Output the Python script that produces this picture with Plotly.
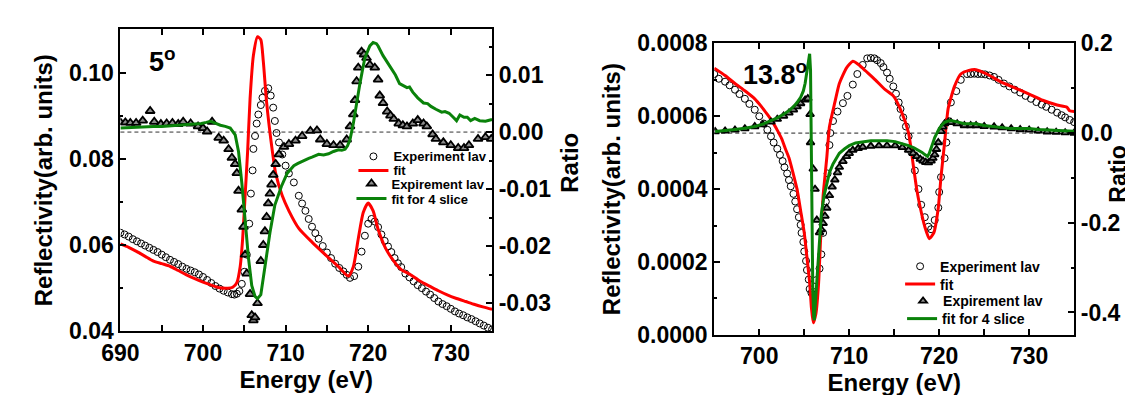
import plotly.graph_objects as go

# ---------------- Left panel (5 deg) ----------------
e5_exp = [690.0, 690.5, 691.0, 691.5, 692.0, 692.5, 693.0, 693.5, 694.0, 694.5, 695.0, 695.5, 696.0, 696.5,
          697.0, 697.5, 698.0, 698.5, 699.0, 699.5, 700.0, 700.5, 701.0, 701.5, 702.0, 702.5, 703.0, 703.5,
          703.8, 704.1, 704.4, 704.7, 705.0, 705.3, 705.6, 705.8, 706.0, 706.1, 706.3, 706.5, 706.7, 707.0,
          707.2, 707.5, 707.9, 708.2, 708.5, 708.7, 708.9, 709.2, 709.6, 710.0, 710.4, 711.0, 711.6, 712.0,
          712.4, 712.8, 713.2, 713.6, 714.0, 714.5, 715.0, 715.5, 716.0, 716.5, 717.0, 717.4, 717.8, 718.3,
          718.8, 719.2, 719.6, 720.0, 720.4, 720.8, 721.2, 721.6, 722.0, 722.4, 722.8, 723.2, 723.6, 724.0,
          724.5, 725.0, 725.5, 726.0, 726.5, 727.0, 727.5, 728.0, 728.5, 729.0, 729.5, 730.0, 730.5, 731.0,
          731.5, 732.0, 732.5, 733.0, 733.5, 734.0, 734.5, 735.0]
r5_exp = [0.0629, 0.0625, 0.0620, 0.0614, 0.0609, 0.0604, 0.0599, 0.0594, 0.0589, 0.0584, 0.0578, 0.0572,
          0.0566, 0.0561, 0.0556, 0.0550, 0.0545, 0.0541, 0.0537, 0.0532, 0.0526, 0.0519, 0.0512, 0.0505,
          0.0499, 0.0494, 0.0490, 0.0486, 0.0485, 0.0487, 0.0493, 0.0510, 0.0538, 0.0578, 0.0650, 0.0720,
          0.0774, 0.0824, 0.0854, 0.0883, 0.0904, 0.0926, 0.0943, 0.0959, 0.0965, 0.0948, 0.0920, 0.0889,
          0.0861, 0.0839, 0.0811, 0.0785, 0.0767, 0.0746, 0.0715, 0.0697, 0.0680, 0.0661, 0.0643, 0.0628,
          0.0615, 0.0598, 0.0583, 0.0570, 0.0557, 0.0547, 0.0539, 0.0531, 0.0524, 0.0528, 0.0550, 0.0585,
          0.0622, 0.0650, 0.0661, 0.0655, 0.0642, 0.0625, 0.0610, 0.0597, 0.0584, 0.0570, 0.0558, 0.0549,
          0.0534, 0.0525, 0.0516, 0.0507, 0.0500, 0.0492, 0.0485, 0.0477, 0.0469, 0.0463, 0.0458, 0.0452,
          0.0446, 0.0441, 0.0437, 0.0432, 0.0428, 0.0423, 0.0418, 0.0413, 0.0408, 0.0404]

e5_fit = [690.0, 691.0, 692.0, 693.0, 694.0, 695.0, 696.0, 697.0, 698.0, 699.0, 700.0, 701.0, 702.0, 703.0,
          703.6, 704.1, 704.5, 704.8, 705.1, 705.4, 705.7, 706.1, 706.6, 707.0, 707.3, 707.7, 708.3, 708.8,
          709.6, 710.4, 711.6, 713.2, 714.8, 716.4, 717.6, 718.2, 718.8, 719.4, 720.0, 720.6, 721.2, 722.1,
          723.1, 724.0, 725.0, 726.3, 727.5, 728.5, 729.5, 730.7, 731.8, 732.9, 734.0, 735.0]
r5_fit = [0.0603, 0.0595, 0.0585, 0.0574, 0.0563, 0.0557, 0.0551, 0.0541, 0.0531, 0.0522, 0.0514, 0.0507,
          0.0501, 0.0500, 0.0502, 0.0513, 0.0550, 0.0615, 0.0715, 0.0817, 0.0941, 0.1041, 0.1085, 0.1078,
          0.1028, 0.0933, 0.0833, 0.0767, 0.0715, 0.0680, 0.0639, 0.0607, 0.0578, 0.0550, 0.0528, 0.0550,
          0.0615, 0.0676, 0.0698, 0.0680, 0.0637, 0.0593, 0.0563, 0.0543, 0.0533, 0.0516, 0.0504, 0.0494,
          0.0485, 0.0476, 0.0469, 0.0462, 0.0456, 0.0451]

e5_ratio = [690.0, 690.6, 691.2, 691.9, 692.7, 693.6, 694.1, 694.9, 695.6, 696.3, 697.0, 697.6, 698.5, 699.4,
            700.0, 700.5, 701.1, 701.9, 702.5, 703.1, 703.5, 703.9, 704.1, 704.3, 704.7, 704.9, 705.1, 705.3,
            705.7, 705.9, 706.1, 706.3, 706.6, 707.0, 707.3, 707.5, 707.7, 707.9, 708.1, 708.3, 708.5, 708.8,
            709.2, 709.8, 710.4, 711.2, 712.0, 713.0, 713.8, 714.2, 715.0, 715.8, 716.6, 717.4, 717.8, 718.2,
            718.4, 718.6, 718.8, 719.2, 719.5, 719.8, 720.2, 720.8, 721.2, 721.4, 721.8, 722.3, 722.7, 723.1,
            723.7, 724.2, 724.7, 725.4, 726.0, 726.7, 727.1, 727.8, 728.2, 729.1, 730.0, 730.9, 731.6, 732.2,
            733.3, 734.2, 734.9]
q5_ratio = [0.0017, 0.0017, 0.0016, 0.0016, 0.0020, 0.0037, 0.0018, 0.0014, 0.0015, 0.0016, 0.0014, 0.0018,
            0.0015, 0.0010, 0.0007, 0.0001, 0.0018, -0.0010, -0.0015, -0.0030, -0.0045, -0.0056, -0.0072,
            -0.0103, -0.0136, -0.0166, -0.0215, -0.0248, -0.0284, -0.0321, -0.0330, -0.0325, -0.0300, -0.0226,
            -0.0198, -0.0174, -0.0149, -0.0125, -0.0108, -0.0092, -0.0075, -0.0056, -0.0039, -0.0026, -0.0021,
            -0.0015, -0.0007, 0.0002, 0.0003, -0.0013, -0.0021, -0.0023, -0.0023, -0.0013, 0.0010, 0.0031,
            0.0056, 0.0089, 0.0113, 0.0141, 0.0136, 0.0130, 0.0118, 0.0113, 0.0092, 0.0064, 0.0051, 0.0036,
            0.0029, 0.0023, 0.0015, 0.0012, 0.0010, 0.0015, 0.0021, 0.0015, 0.0010, -0.0004, -0.0012, -0.0018,
            -0.0023, -0.0028, -0.0028, -0.0023, -0.0012, -0.0009, -0.0012]

e5_slice = [690.0, 691.0, 692.0, 693.0, 694.0, 695.0, 696.0, 697.0, 698.0, 699.0, 699.8, 700.4, 700.9, 701.4,
            702.1, 702.7, 703.3, 703.9, 704.3, 704.7, 705.1, 705.5, 705.9, 706.3, 706.6, 707.0, 707.5, 708.1,
            708.7, 709.5, 710.2, 711.0, 711.5, 712.0, 712.4, 712.8, 713.2, 713.6, 714.0, 714.6, 715.2, 715.8,
            716.4, 716.8, 717.2, 717.5, 717.8, 718.2, 718.6, 719.0, 719.3, 719.6, 720.2, 720.6, 721.0, 721.2,
            721.8, 722.3, 722.8, 723.3, 723.8, 724.2, 724.7, 725.0, 725.4, 726.0, 726.7, 727.2, 727.6, 728.2,
            728.9, 729.3, 729.8, 730.3, 730.7, 731.1, 731.6, 732.0, 732.4, 732.9, 733.5, 734.2, 735.0]
q5_slice = [0.0007, 0.0008, 0.0008, 0.0009, 0.0010, 0.0010, 0.0011, 0.0011, 0.0012, 0.0013, 0.0015, 0.0017,
            0.0019, 0.0016, 0.0012, 0.0010, 0.0007, -0.0005, -0.0034, -0.0089, -0.0154, -0.0220, -0.0269,
            -0.0288, -0.0292, -0.0285, -0.0236, -0.0177, -0.0128, -0.0095, -0.0072, -0.0059, -0.0055, -0.0051,
            -0.0048, -0.0046, -0.0044, -0.0042, -0.0039, -0.0040, -0.0038, -0.0034, -0.0031, -0.0032, -0.0030,
            -0.0024, -0.0013, 0.0015, 0.0052, 0.0085, 0.0108, 0.0130, 0.0151, 0.0157, 0.0155, 0.0151, 0.0134,
            0.0123, 0.0113, 0.0100, 0.0085, 0.0082, 0.0078, 0.0079, 0.0070, 0.0060, 0.0051, 0.0050, 0.0045,
            0.0040, 0.0035, 0.0036, 0.0033, 0.0026, 0.0020, 0.0030, 0.0026, 0.0026, 0.0020, 0.0024, 0.0020,
            0.0019, 0.0022]

# ---------------- Right panel (13.8 deg) ----------------
e13_exp = [695.0, 695.5, 696.2, 696.7, 697.3, 697.8, 698.4, 698.9, 699.5, 700.0, 700.5, 700.9, 701.3, 701.6,
           702.0, 702.3, 702.6, 702.8, 703.1, 703.3, 703.5, 703.8, 704.0, 704.2, 704.4, 704.6, 704.7, 704.9,
           705.0, 705.2, 705.3, 705.5, 705.6, 705.8, 706.0, 706.3, 706.7, 706.9, 707.1, 707.4, 707.6, 707.8,
           707.9, 708.2, 708.7, 709.3, 709.8, 710.4, 710.9, 711.5, 712.0, 712.4, 712.8, 713.1, 713.5, 713.8,
           714.2, 714.5, 714.9, 715.2, 715.5, 715.7, 716.0, 716.3, 716.6, 716.9, 717.3, 717.7, 718.0, 718.4,
           718.8, 719.1, 719.5, 719.9, 720.0, 720.2, 720.6, 720.8, 721.0, 721.3, 721.9, 722.4, 723.1, 723.5,
           723.9, 724.3, 724.7, 725.1, 725.6, 726.1, 726.6, 727.2, 727.8, 728.4, 729.0, 729.6, 730.2, 730.8,
           731.4, 731.9, 732.5, 733.1, 733.6, 734.0, 734.5, 735.0]
r13_exp = [0.000716, 0.000703, 0.000695, 0.000685, 0.000673, 0.000661, 0.000648, 0.000634, 0.000618, 0.000600,
           0.000580, 0.000563, 0.000545, 0.000528, 0.000511, 0.000494, 0.000477, 0.000460, 0.000443, 0.000425,
           0.000408, 0.000387, 0.000366, 0.000345, 0.000323, 0.000302, 0.000280, 0.000255, 0.000229, 0.000203,
           0.000178, 0.000152, 0.000126, 0.000115, 0.000118, 0.000150, 0.000182, 0.000221, 0.000280, 0.000366,
           0.000443, 0.000521, 0.000554, 0.000587, 0.000613, 0.000636, 0.000656, 0.000687, 0.000716, 0.000741,
           0.000759, 0.000760, 0.000759, 0.000754, 0.000746, 0.000735, 0.000720, 0.000703, 0.000682, 0.000662,
           0.000638, 0.000620, 0.000597, 0.000572, 0.000545, 0.000502, 0.000451, 0.000400, 0.000357, 0.000323,
           0.000297, 0.000290, 0.000315, 0.000349, 0.000392, 0.000433, 0.000485, 0.000528, 0.000587, 0.000638,
           0.000669, 0.000700, 0.000716, 0.000716, 0.000717, 0.000716, 0.000716, 0.000715, 0.000712, 0.000708,
           0.000700, 0.000690, 0.000682, 0.000673, 0.000665, 0.000656, 0.000648, 0.000639, 0.000632, 0.000626,
           0.000618, 0.000610, 0.000603, 0.000597, 0.000590, 0.000584]

e13_fit = [695.0, 696.2, 697.3, 698.4, 699.5, 700.2, 700.9, 701.5, 702.0, 702.5, 702.9, 703.3, 703.6, 703.9,
           704.2, 704.6, 705.0, 705.3, 705.6, 705.8, 706.0, 706.3, 706.6, 706.8, 707.1, 707.5, 707.8, 708.4,
           708.9, 709.7, 710.4, 711.1, 711.8, 712.9, 714.0, 714.9, 715.8, 716.6, 717.1, 717.5, 717.9, 718.4,
           718.9, 719.4, 719.9, 720.2, 720.6, 721.0, 721.7, 722.4, 723.3, 724.1, 725.3, 726.8, 728.4, 730.0,
           731.5, 733.1, 734.2, 734.5, 735.0]
r13_fit = [0.000732, 0.000712, 0.000690, 0.000670, 0.000648, 0.000628, 0.000605, 0.000584, 0.000562, 0.000538,
           0.000511, 0.000486, 0.000459, 0.000430, 0.000400, 0.000341, 0.000280, 0.000213, 0.000144, 0.000074,
           0.000033, 0.000059, 0.000144, 0.000254, 0.000383, 0.000485, 0.000571, 0.000638, 0.000690, 0.000733,
           0.000751, 0.000741, 0.000725, 0.000700, 0.000673, 0.000656, 0.000613, 0.000554, 0.000469, 0.000400,
           0.000349, 0.000297, 0.000264, 0.000280, 0.000349, 0.000433, 0.000528, 0.000622, 0.000682, 0.000716,
           0.000726, 0.000728, 0.000716, 0.000695, 0.000678, 0.000661, 0.000644, 0.000631, 0.000625, 0.000615,
           0.000613]

e13_ratio = [695.1, 696.2, 697.3, 698.4, 699.5, 700.4, 701.3, 702.0, 702.7, 703.3, 703.8, 704.2, 704.6, 705.1,
             705.4, 705.65, 705.7, 706.0, 706.2, 706.4, 706.7, 706.9, 707.1, 707.3, 707.5, 707.8, 708.1, 708.4,
             708.7, 708.9, 709.3, 709.7, 710.0, 710.4, 711.0, 711.5, 712.4, 713.3, 714.2, 715.1, 715.9, 716.6,
             717.1, 717.5, 717.9, 718.2, 718.5, 718.8, 719.1, 719.3, 719.5, 719.7, 719.9, 720.2, 720.4, 720.6,
             721.0, 721.3, 722.0, 722.8, 723.5, 724.1, 725.0, 726.1, 727.0, 728.0, 729.0, 730.0, 731.0, 732.0,
             733.0, 734.0, 735.0]
q13_ratio = [0.0035, 0.005, 0.007, 0.010, 0.0146, 0.019, 0.025, 0.031, 0.038, 0.045, 0.052, 0.059, 0.066,
             0.074, 0.077, 0.042, -0.021, -0.080, -0.125, -0.194, -0.222, -0.215, -0.201, -0.185, -0.167,
             -0.139, -0.120, -0.104, -0.088, -0.076, -0.063, -0.052, -0.045, -0.038, -0.034, -0.031, -0.029,
             -0.028, -0.028, -0.028, -0.032, -0.038, -0.045, -0.052, -0.058, -0.062, -0.065, -0.066, -0.062,
             -0.056, -0.048, -0.036, -0.021, 0.004, 0.014, 0.021, 0.024, 0.024, 0.021, 0.017, 0.017, 0.017,
             0.015, 0.014, 0.012, 0.010, 0.008, 0.007, 0.005, 0.003, 0.002, 0.001, 0.000]

e13_slice = [695.1, 696.2, 697.3, 698.4, 699.5, 700.4, 701.3, 702.0, 702.7, 703.3, 703.8, 704.2, 704.6, 704.9,
             705.1, 705.3, 705.45, 705.6, 705.7, 705.75, 705.85, 705.95, 706.05, 706.12, 706.25, 706.4, 706.6,
             706.9, 707.2, 707.5, 707.8, 708.2, 708.9, 709.5, 710.0, 710.7, 711.5, 712.4, 713.3, 714.2, 715.1,
             715.9, 716.6, 717.2, 717.7, 718.1, 718.4, 718.7, 718.9, 719.1, 719.3, 719.5, 719.8, 720.0, 720.3,
             720.6, 721.0, 721.3, 722.0, 722.8, 723.5, 724.1, 725.0, 726.1, 727.0, 728.0, 729.0, 730.0, 731.0,
             732.0, 733.0, 734.0, 735.0]
q13_slice = [0.0035, 0.005, 0.008, 0.011, 0.0146, 0.020, 0.027, 0.034, 0.042, 0.050, 0.059, 0.068, 0.080,
             0.094, 0.111, 0.135, 0.153, 0.177, 0.140, 0.000, -0.200, -0.350, -0.410, -0.417, -0.375, -0.330,
             -0.264, -0.181, -0.140, -0.111, -0.088, -0.069, -0.045, -0.035, -0.028, -0.022, -0.019, -0.017,
             -0.017, -0.017, -0.019, -0.023, -0.028, -0.033, -0.038, -0.043, -0.048, -0.052, -0.045, -0.035,
             -0.022, -0.010, 0.002, 0.010, 0.018, 0.024, 0.027, 0.028, 0.025, 0.021, 0.021, 0.021, 0.017,
             0.014, 0.012, 0.010, 0.010, 0.010, 0.008, 0.007, 0.005, 0.005, 0.004]

# ---------------- Axis ticks / labels ----------------
x5_ticks = [690, 700, 710, 720, 730]
x13_ticks = [700, 710, 720, 730]
y5_ticks = [0.04, 0.06, 0.08, 0.10]
y5_labels = ["0.04", "0.06", "0.08", "0.10"]
q5_ticks = [-0.03, -0.02, -0.01, 0.0, 0.01]
q5_labels = ["-0.03", "-0.02", "-0.01", "0.00", "0.01"]
y13_ticks = [0.0, 0.0002, 0.0004, 0.0006, 0.0008]
y13_labels = ["0.0000", "0.0002", "0.0004", "0.0006", "0.0008"]
q13_ticks = [-0.4, -0.2, 0.0, 0.2]
q13_labels = ["-0.4", "-0.2", "0.0", "0.2"]

names = ["Experiment lav", "fit", "Expirement lav", "fit for 4 slice"]

FONT = "Liberation Sans, Arial, sans-serif"
W, H = 1133, 395

RED = "#ff0000"
GREEN = "#0a820a"

def circle_marker():
    return dict(symbol="circle-open", size=7, color="black", line=dict(width=1, color="black"))

def tri_marker(size):
    return dict(symbol="triangle-up", size=size, color="#8c8c8c", line=dict(width=1.8, color="black"))

fig = go.Figure()
# left panel
fig.add_trace(go.Scatter(x=e5_exp, y=r5_exp, mode="markers", name=names[0], marker=circle_marker(),
                         xaxis="x", yaxis="y", legend="legend", showlegend=True))
fig.add_trace(go.Scatter(x=e5_fit, y=r5_fit, mode="lines", name=names[1],
                         line=dict(color=RED, width=3, shape="spline", smoothing=0.6),
                         xaxis="x", yaxis="y", legend="legend2", showlegend=True))
fig.add_trace(go.Scatter(x=e5_ratio, y=q5_ratio, mode="markers", name=names[2], marker=tri_marker(8),
                         xaxis="x", yaxis="y2", legend="legend3", showlegend=True))
fig.add_trace(go.Scatter(x=e5_slice, y=q5_slice, mode="lines", name=names[3], line=dict(color=GREEN, width=3),
                         xaxis="x", yaxis="y2", legend="legend4", showlegend=True))
# right panel
fig.add_trace(go.Scatter(x=e13_exp, y=r13_exp, mode="markers", name=names[0], marker=circle_marker(),
                         xaxis="x2", yaxis="y3", legend="legend5", showlegend=True))
fig.add_trace(go.Scatter(x=e13_fit, y=r13_fit, mode="lines", name=names[1],
                         line=dict(color=RED, width=3, shape="spline", smoothing=0.5),
                         xaxis="x2", yaxis="y3", legend="legend6", showlegend=True))
fig.add_trace(go.Scatter(x=e13_ratio, y=q13_ratio, mode="markers", name=names[2], marker=tri_marker(7),
                         xaxis="x2", yaxis="y4", legend="legend7", showlegend=True))
fig.add_trace(go.Scatter(x=e13_slice, y=q13_slice, mode="lines", name=names[3], line=dict(color=GREEN, width=3),
                         xaxis="x2", yaxis="y4", legend="legend8", showlegend=True))

tickfont = dict(family=FONT, size=23, color="black", weight="bold")
titlefont = dict(family=FONT, size=24, color="black", weight="bold")

def xax(domain, rng, ticks, anchor):
    return dict(domain=domain, range=rng, anchor=anchor, tickmode="array", tickvals=ticks,
                ticktext=[str(t) for t in ticks], ticks="inside", ticklen=6, tickwidth=1.5,
                tickcolor="black", showline=True, linewidth=2, linecolor="black", mirror="allticks",
                showgrid=False, zeroline=False, tickfont=tickfont,
                minor=dict(dtick=5, tick0=690, ticks="inside", ticklen=3, tickwidth=1.5, tickcolor="black",
                           showgrid=False),
                title=dict(text="Energy (eV)", font=titlefont, standoff=4))

def yax(domain, rng, ticks, labels, minor_dtick, anchor, title, standoff, side="left", overlay=None):
    d = dict(domain=domain, range=rng, anchor=anchor, side=side, tickmode="array", tickvals=ticks,
             ticktext=labels, ticks="inside", ticklen=6, tickwidth=1.5, tickcolor="black",
             showline=True, linewidth=2, linecolor="black", showgrid=False, zeroline=False,
             tickfont=tickfont,
             minor=dict(dtick=minor_dtick, tick0=0, ticks="inside", ticklen=3, tickwidth=1.5,
                        tickcolor="black", showgrid=False))
    if title:
        d["title"] = dict(text=title, font=titlefont, standoff=standoff)
    if overlay:
        d["overlaying"] = overlay
    return d

xd1 = [95 / W, 473 / W]
yd1 = [(H - 332) / H, (H - 9) / H]
xd2 = [699 / W, 1065 / W]
yd2 = [(H - 336) / H, (H - 24) / H]

def leg(xpx, ypx, size):
    return dict(x=xpx / W, y=(H - ypx) / H, xanchor="left", yanchor="middle", bgcolor="rgba(0,0,0,0)",
                borderwidth=0, font=dict(family=FONT, size=size, color="black", weight="bold"),
                itemsizing="trace", tracegroupgap=0, visible=True)

fig.update_layout(
    width=W, height=H,
    margin=dict(l=0, r=0, t=0, b=0),
    paper_bgcolor="white", plot_bgcolor="white",
    font=dict(family=FONT, color="black"),
    showlegend=True,
    xaxis=xax(xd1, [690, 735], x5_ticks, "y"),
    yaxis=yax(yd1, [0.04, 0.1102], y5_ticks, y5_labels, 0.01, "x", "Reflectivity(arb. units)", 10),
    yaxis2=yax(yd1, [-0.0349, 0.0180], q5_ticks, q5_labels, 0.005, "x", None, 0, side="right", overlay="y"),
    xaxis2=xax(xd2, [695, 735], x13_ticks, "y3"),
    yaxis3=yax(yd2, [0.0, 0.0008], y13_ticks, y13_labels, 0.0001, "x2", "Reflectivity(arb. units)", 10),
    yaxis4=yax(yd2, [-0.45, 0.2], q13_ticks, q13_labels, 0.1, "x2", None, 0, side="right", overlay="y3"),
    legend=leg(332, 145, 13),
    legend2=leg(332, 160, 13),
    legend3=leg(330, 174, 13),
    legend4=leg(330, 190, 13),
    legend5=leg(888, 263, 14),
    legend6=leg(888, 282, 14),
    legend7=leg(891, 300, 14),
    legend8=leg(890, 319, 14),
    shapes=[
        dict(type="line", xref="x domain", yref="y2", x0=0, x1=1, y0=0, y1=0,
             line=dict(color="#333333", width=1, dash="4px,3px"), layer="below"),
        dict(type="line", xref="x2 domain", yref="y4", x0=0, x1=1, y0=0, y1=0,
             line=dict(color="#222222", width=1, dash="4px,3px"), layer="below"),
    ],
    annotations=[
        dict(text="5<sup>o</sup>", xref="x domain", yref="y domain", x=0.072, y=0.90, xanchor="left",
             yanchor="middle", showarrow=False, font=dict(family=FONT, size=27, color="black", weight="bold")),
        dict(text="13.8<sup>o</sup>", xref="x2 domain", yref="y3 domain", x=0.074, y=0.90, xanchor="left",
             yanchor="middle", showarrow=False, font=dict(family=FONT, size=27, color="black", weight="bold")),
        # right-hand axis titles
        dict(text="Ratio", xref="paper", yref="paper", x=552 / W, y=(H - 152) / H, xanchor="center",
             yanchor="middle", textangle=-90, showarrow=False,
             font=dict(family=FONT, size=24, color="black", weight="bold")),
        dict(text="Ratio", xref="paper", yref="paper", x=1110 / W, y=(H - 163) / H, xanchor="center",
             yanchor="middle", textangle=-90, showarrow=False, borderpad=0,
             font=dict(family=FONT, size=23, color="black", weight="bold")),
    ],
)

fig.write_html("out.html")
